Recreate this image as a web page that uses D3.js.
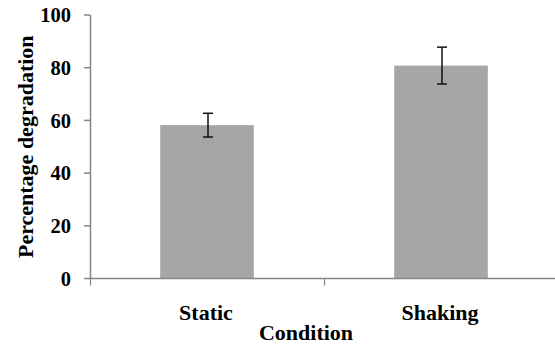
<!DOCTYPE html>
<html><head><meta charset="utf-8">
<script src="https://cdn.jsdelivr.net/npm/d3@7"></script>
<style>body{margin:0;background:#fff}svg{display:block}</style>
</head><body>
<svg id="c" width="555" height="345"></svg>
<script>
const categories = ["Static", "Shaking"];
const values = [58.2, 80.8];
const errors = [4.5, 7.0];
const yTicks = [0, 20, 40, 60, 80, 100];
const xTitle = "Condition";
const yTitle = "Percentage degradation";

const svg = d3.select("#c");
const mLeft = 90, mRight = 558, mTop = 15, mBottom = 278.5;
const font = "'Liberation Serif','Times New Roman',serif";
const axisColor = "#868686";

const x = d3.scaleBand().domain(categories).range([mLeft, mRight]).paddingInner(0).paddingOuter(0);
const y = d3.scaleLinear().domain([0, 100]).range([mBottom, mTop]);
const barW = x.bandwidth() * 0.4;

// bars
svg.selectAll("rect.bar").data(categories).enter().append("rect")
  .attr("x", d => x(d) + x.bandwidth() / 2 - barW / 2)
  .attr("y", (d, i) => y(values[i]))
  .attr("width", barW)
  .attr("height", (d, i) => y(0) - y(values[i]))
  .attr("fill", "#a6a6a6");

// y axis
svg.append("line").attr("x1", mLeft + 0.5).attr("x2", mLeft + 0.5).attr("y1", y(100)).attr("y2", y(0))
  .attr("stroke", axisColor).attr("stroke-width", 1.5);
yTicks.forEach(t => {
  svg.append("line").attr("x1", mLeft - 6).attr("x2", mLeft).attr("y1", y(t)).attr("y2", y(t))
    .attr("stroke", axisColor).attr("stroke-width", 1.5);
  svg.append("text").attr("x", 71).attr("y", y(t)).attr("dy", "0.35em")
    .attr("text-anchor", "end").attr("font-family", font).attr("font-weight", "bold")
    .attr("font-size", 20.5).attr("fill", "#000").text(t);
});

// x axis
svg.append("line").attr("x1", mLeft).attr("x2", mRight).attr("y1", y(0)).attr("y2", y(0))
  .attr("stroke", axisColor).attr("stroke-width", 1.5);
const bounds = [mLeft].concat(categories.map(c => x(c) + x.bandwidth()));
bounds.forEach(b => {
  svg.append("line").attr("x1", b + 0.5).attr("x2", b + 0.5).attr("y1", y(0)).attr("y2", y(0) + 7)
    .attr("stroke", axisColor).attr("stroke-width", 1.2);
});
categories.forEach(c => {
  svg.append("text").attr("x", x(c) + x.bandwidth() / 2 - 1).attr("y", 320)
    .attr("text-anchor", "middle").attr("font-family", font).attr("font-weight", "bold")
    .attr("font-size", 22).attr("fill", "#000").text(c);
});

// error bars
const capW = 10;
categories.forEach((c, i) => {
  const cx = x(c) + x.bandwidth() / 2 + 1;
  const g = svg.append("g").attr("stroke", "#111").attr("stroke-width", 1.5);
  g.append("line").attr("x1", cx).attr("x2", cx).attr("y1", y(values[i] + errors[i])).attr("y2", y(values[i] - errors[i]));
  g.append("line").attr("x1", cx - capW / 2).attr("x2", cx + capW / 2).attr("y1", y(values[i] + errors[i])).attr("y2", y(values[i] + errors[i]));
  g.append("line").attr("x1", cx - capW / 2).attr("x2", cx + capW / 2).attr("y1", y(values[i] - errors[i])).attr("y2", y(values[i] - errors[i]));
});

// titles
svg.append("text").attr("x", 306).attr("y", 340).attr("text-anchor", "middle")
  .attr("font-family", font).attr("font-weight", "bold").attr("font-size", 22).attr("fill", "#000").text(xTitle);
svg.append("text").attr("transform", `translate(33,${(mTop + mBottom) / 2}) rotate(-90)`)
  .attr("text-anchor", "middle").attr("font-family", font).attr("font-weight", "bold")
  .attr("font-size", 22).attr("fill", "#000").text(yTitle);
</script>
</body></html>
